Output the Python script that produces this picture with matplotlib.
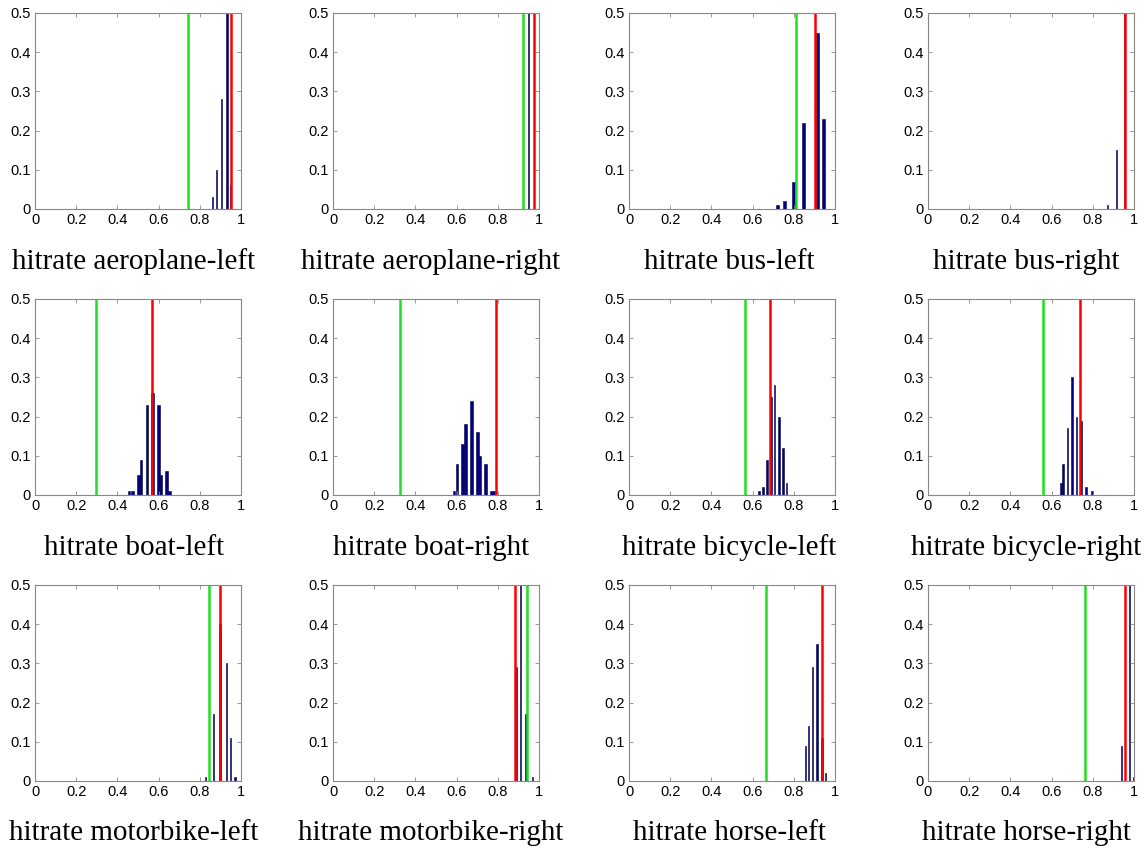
import matplotlib.pyplot as plt

# subfigure captions
titles = [
    "hitrate aeroplane-left", "hitrate aeroplane-right", "hitrate bus-left", "hitrate bus-right",
    "hitrate boat-left", "hitrate boat-right", "hitrate bicycle-left", "hitrate bicycle-right",
    "hitrate motorbike-left", "hitrate motorbike-right", "hitrate horse-left", "hitrate horse-right",
]

# histogram bin centres and normalised counts, one list per panel
bar_x = [
    [0.863, 0.882, 0.906, 0.932, 0.950],
    [0.950],
    [0.722, 0.754, 0.799, 0.849, 0.913, 0.945],
    [0.873, 0.915, 0.955],
    [0.457, 0.472, 0.502, 0.515, 0.543, 0.570, 0.598, 0.611, 0.638, 0.653],
    [0.587, 0.602, 0.629, 0.644, 0.671, 0.700, 0.713, 0.740, 0.769, 0.781],
    [0.630, 0.650, 0.669, 0.688, 0.707, 0.727, 0.746, 0.765],
    [0.645, 0.656, 0.677, 0.700, 0.721, 0.742, 0.765, 0.798],
    [0.826, 0.898, 0.866, 0.929, 0.950, 0.971],
    [0.890, 0.910, 0.937, 0.969],
    [0.857, 0.871, 0.891, 0.913, 0.936, 0.953],
    [0.937, 0.976, 0.998],
]
bar_h = [
    [0.03, 0.10, 0.28, 0.53, 0.06],
    [1.00],
    [0.01, 0.02, 0.07, 0.22, 0.45, 0.23],
    [0.01, 0.15, 0.84],
    [0.01, 0.01, 0.05, 0.09, 0.23, 0.26, 0.23, 0.05, 0.06, 0.01],
    [0.01, 0.08, 0.13, 0.18, 0.24, 0.16, 0.10, 0.08, 0.01, 0.01],
    [0.01, 0.02, 0.09, 0.25, 0.28, 0.20, 0.12, 0.03],
    [0.03, 0.08, 0.17, 0.30, 0.20, 0.19, 0.02, 0.01],
    [0.01, 0.40, 0.17, 0.30, 0.11, 0.01],
    [0.29, 0.53, 0.17, 0.01],
    [0.09, 0.14, 0.29, 0.35, 0.11, 0.02],
    [0.09, 0.90, 0.01],
]
bar_w = [0.006, 0.006, 0.014, 0.005, 0.013, 0.013, 0.008, 0.009, 0.006, 0.006, 0.007, 0.005]

# vertical reference lines
green_x = [0.745, 0.923, 0.809, None, 0.294, 0.324, 0.563, 0.558, 0.845, 0.942, 0.667, 0.763]
red_x = [0.953, 0.976, 0.904, 0.955, 0.567, 0.790, 0.686, 0.740, 0.898, 0.884, 0.936, 0.956]

W, H = 1146, 851
col_left = [35, 333, 629, 928]
row_top = [13, 299, 585]
ax_w, ax_h = 206, 196
cap_x = [134, 431, 729, 1026]
cap_y = [262, 548, 833]

fig = plt.figure(figsize=(W / 100, H / 100), dpi=100)

for i, title in enumerate(titles):
    r, c = divmod(i, 4)
    ax = fig.add_axes([col_left[c] / W, 1 - (row_top[r] + ax_h) / H, ax_w / W, ax_h / H])
    ax.bar(bar_x[i], bar_h[i], width=bar_w[i], color='#000080',
           edgecolor='#00004a', linewidth=0.4)
    if green_x[i] is not None:
        ax.axvline(green_x[i], color='#1ee01e', linewidth=1.8)
    ax.axvline(red_x[i], color='#ff0000', linewidth=1.8)

    ax.set_xlim(0, 1)
    ax.set_ylim(0, 0.5)
    ax.set_xticks([0, 0.2, 0.4, 0.6, 0.8, 1])
    ax.set_xticklabels(['0', '0.2', '0.4', '0.6', '0.8', '1'])
    ax.set_yticks([0, 0.1, 0.2, 0.3, 0.4, 0.5])
    ax.set_yticklabels(['0', '0.1', '0.2', '0.3', '0.4', '0.5'])
    ax.tick_params(direction='in', length=3, width=0.6, color='#888888',
                   top=True, right=True, labelsize=10.5, pad=3)
    for lbl in ax.get_xticklabels() + ax.get_yticklabels():
        lbl.set_family('Liberation Sans')
    for sp in ax.spines.values():
        sp.set_color('#888888')
        sp.set_linewidth(0.8)

    fig.text(cap_x[c] / W, 1 - cap_y[r] / H, title, ha='center', va='center',
             fontsize=21, family='Liberation Serif')

fig.savefig('out.png', dpi=100)
